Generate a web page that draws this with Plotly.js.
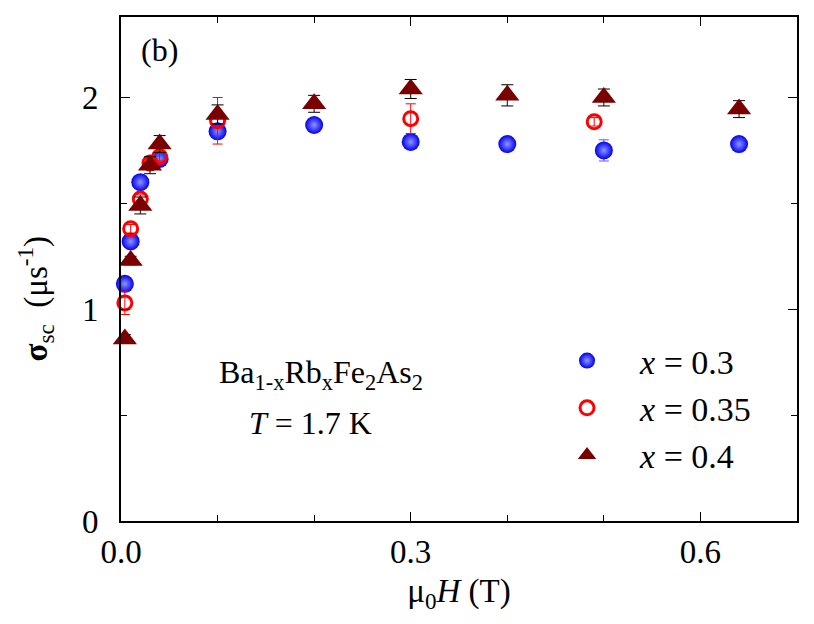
<!DOCTYPE html>
<html>
<head>
<meta charset="utf-8">
<script src="https://cdn.plot.ly/plotly-3.0.1.min.js"></script>
<style>
  html, body { margin: 0; padding: 0; background: #fff; }
  #chart { width: 814px; height: 624px; }
</style>
</head>
<body>
<div id="chart"></div>
<script>
// field values (T) and sigma_sc (us^-1)
const fieldX30 = [0.004, 0.01, 0.02, 0.04, 0.1, 0.2, 0.3, 0.4, 0.5, 0.64];
const sigmaX30 = [1.12, 1.32, 1.60, 1.71, 1.84, 1.87, 1.79, 1.78, 1.75, 1.78];
const errX30 = [0.02, 0.02, 0.02, 0.03, 0.03, 0.03, 0.03, 0.03, 0.05, 0.02];

const fieldX35 = [0.004, 0.01, 0.02, 0.03, 0.04, 0.1, 0.3, 0.49];
const sigmaX35 = [1.03, 1.38, 1.52, 1.69, 1.72, 1.89, 1.90, 1.885];
const errX35 = [0.055, 0.02, 0.02, 0.02, 0.02, 0.11, 0.07, 0.02];

const fieldX40 = [0.004, 0.01, 0.02, 0.03, 0.04, 0.1, 0.2, 0.3, 0.4, 0.5, 0.64];
const sigmaX40 = [0.86, 1.23, 1.49, 1.68, 1.78, 1.92, 1.97, 2.04, 2.01, 2.00, 1.945];
const errX40 = [0.02, 0.02, 0.04, 0.04, 0.04, 0.045, 0.04, 0.045, 0.05, 0.04, 0.04];

const legendNames = ["<i>x</i> = 0.3", "<i>x</i> = 0.35", "<i>x</i> = 0.4"];

const serif = "Liberation Serif, Times New Roman, serif";

var blue = {
  x: fieldX30, y: sigmaX30, name: legendNames[0],
  type: "scatter", mode: "markers", cliponaxis: false,
  marker: { symbol: "circle", size: 18, color: "#0000ee",
            gradient: { type: "radial", color: "#8f95ff" },
            line: { width: 0 } },
  error_y: { type: "data", array: errX30, visible: true, color: "#5a5aff", thickness: 1, width: 5 }
};

var red = {
  x: fieldX35, y: sigmaX35, name: legendNames[1],
  type: "scatter", mode: "markers", cliponaxis: false,
  marker: { symbol: "circle-open", size: 14, color: "#ff0000", line: { width: 3, color: "#ff0000" } },
  error_y: { type: "data", array: errX35, visible: true, color: "#ff0000", thickness: 1, width: 5 }
};

var tri = {
  x: fieldX40, y: sigmaX40, name: legendNames[2],
  type: "scatter", mode: "markers", cliponaxis: false,
  marker: { symbol: "triangle-up", size: 21, color: "#7a0000", line: { width: 0 } },
  error_y: { type: "data", array: errX40, visible: true, color: "#000000", thickness: 1, width: 6 }
};

var layout = {
  width: 814, height: 624,
  margin: { l: 121, r: 17, t: 17, b: 103 },
  paper_bgcolor: "#fff", plot_bgcolor: "#fff",
  font: { family: serif, size: 32, color: "#000" },
  showlegend: true,
  legend: {
    x: 0.611, xanchor: "left", y: 0.375, yanchor: "top",
    bgcolor: "rgba(0,0,0,0)", itemwidth: 96, tracegroupgap: 0,
    font: { family: serif, size: 34, color: "#000" }
  },
  xaxis: {
    range: [0, 0.7], dtick: 0.3, tick0: 0, tickformat: ".1f",
    ticks: "inside", ticklen: 9, tickwidth: 1, tickcolor: "#000",
    minor: { dtick: 0.1, ticks: "inside", ticklen: 6, tickcolor: "#000" },
    showline: true, linewidth: 2, linecolor: "#000", mirror: "ticks",
    showgrid: false, zeroline: false,
    tickfont: { family: serif, size: 33 },
    title: { text: "\u03bc<sub>0</sub><i>H</i> (T)", standoff: 10, font: { family: serif, size: 33 } }
  },
  yaxis: {
    range: [0, 2.38], dtick: 1, tick0: 0,
    ticks: "inside", ticklen: 9, tickwidth: 1, tickcolor: "#000",
    minor: { dtick: 0.5, ticks: "inside", ticklen: 6, tickcolor: "#000" },
    showline: true, linewidth: 2, linecolor: "#000", mirror: "ticks",
    showgrid: false, zeroline: false, ticklabelstandoff: 14,
    tickfont: { family: serif, size: 33 }
  },
  annotations: [
    // y axis title, placed by hand since it sits below the axis middle
    { xref: "paper", yref: "paper", x: -0.127, y: 0.44, xanchor: "center", yanchor: "middle",
      textangle: -90, showarrow: false,
      text: "<b>\u03c3</b><sub>sc</sub>  (\u03bcs<sup>-1</sup>)", font: { family: serif, size: 33 } },
    { xref: "paper", yref: "paper", x: 0.027, y: 0.935, xanchor: "left", yanchor: "middle",
      text: "(b)", showarrow: false, font: { family: serif, size: 32 } },
    { xref: "paper", yref: "paper", x: 0.296, y: 0.29, xanchor: "center", yanchor: "middle",
      text: "Ba<sub>1-x</sub>Rb<sub>x</sub>Fe<sub>2</sub>As<sub>2</sub>", showarrow: false, font: { family: serif, size: 32 } },
    { xref: "paper", yref: "paper", x: 0.28, y: 0.195, xanchor: "center", yanchor: "middle",
      text: "<i>T</i> = 1.7 K", showarrow: false, font: { family: serif, size: 32 } }
  ]
};

Plotly.newPlot("chart", [blue, red, tri], layout, { displayModeBar: false, staticPlot: true });
</script>
</body>
</html>
